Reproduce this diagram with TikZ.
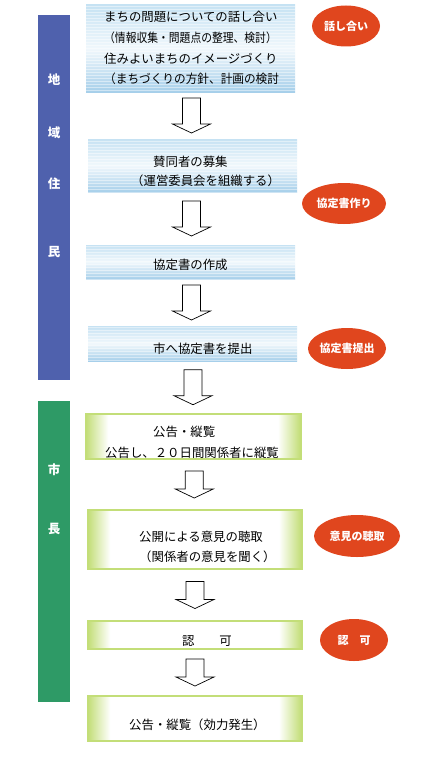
\documentclass[tikz,border=0pt]{standalone}
\usepackage{fontspec}
\setmainfont{Noto Sans CJK JP}
\usetikzlibrary{shapes.geometric,calc,patterns}

\definecolor{azulbarra}{HTML}{4F61AD}
\definecolor{verdebarra}{HTML}{2E9A66}
\definecolor{rojoovalo}{HTML}{E0461E}
\definecolor{azulcaja}{HTML}{A6CFEA}
\definecolor{azulclaro}{HTML}{C6E2F3}
\definecolor{verdecaja}{HTML}{C3DE78}

\tikzset{
  barra/.style={rectangle, inner sep=0pt, minimum width=32pt},
  letrabarra/.style={text=white, inner sep=0pt, font=\bfseries\fontsize{12.5}{14}\selectfont},
  cajaazul/.style={rectangle, inner sep=0pt, top color=azulclaro, bottom color=azulcaja, middle color=azulclaro!25,
    path picture={\fill[pattern=horizontal lines, pattern color=white, opacity=.45]
      (path picture bounding box.south west) rectangle (path picture bounding box.north east);}},
  cajaverde/.style={rectangle, inner sep=0pt, fill=white, draw=verdecaja, line width=1.5pt,
    path picture={
      \foreach \i [evaluate=\i as \p using 100-4.5*\i] in {0,...,22}{
        \fill[verdecaja!\p!white] ([xshift=\i pt]path picture bounding box.south west) rectangle ([xshift=\i pt+1.1pt]path picture bounding box.north west);
        \fill[verdecaja!\p!white] ([xshift=-\i pt]path picture bounding box.south east) rectangle ([xshift=-\i pt-1.1pt]path picture bounding box.north east);}}},
  texto/.style={anchor=west, align=left, inner sep=0pt, text=black, font=\fontsize{12.4}{20.8}\selectfont},
  ovalo/.style={ellipse, fill=rojoovalo, inner sep=0pt, text=white, font=\bfseries\fontsize{11}{13}\selectfont},
  pics/flecha/.style={code={
    \draw[fill=white, line width=.7pt, line join=miter]
      (-9,-#1) -- (9,-#1) -- (9,#1-9) -- (19,#1-9) -- (0,#1) -- (-19,#1-9) -- (-9,#1-9) -- cycle;}}
}

\begin{document}
\begin{tikzpicture}[x=1pt, y=-1pt]
  \useasboundingbox (0,0) rectangle (421,760);
  % Barras laterales
  \node[barra, fill=azulbarra, minimum height=365pt] (vecinos) at (54,197.5) {};
  \node[barra, fill=verdebarra, minimum height=301pt] (alcalde) at (54,551.5) {};
  \node[letrabarra] (l1) at (54,80) {地};
  \node[letrabarra] (l2) at (54,133) {域};
  \node[letrabarra] (l3) at (54,184) {住};
  \node[letrabarra] (l4) at (54,252) {民};
  \node[letrabarra] (l5) at (54,470) {市};
  \node[letrabarra] (l6) at (54,529) {長};

  % Etapas de los vecinos
  \node[cajaazul, minimum width=209pt, minimum height=87pt] (b1) at (190.5,48.5) {};
  \node[cajaazul, minimum width=209pt, minimum height=53pt] (b2) at (192.5,165.5) {};
  \node[cajaazul, minimum width=209pt, minimum height=34pt] (b3) at (190.5,262) {};
  \node[cajaazul, minimum width=209pt, minimum height=35pt] (b4) at (192.5,343.5) {};
  % Etapas del alcalde
  \node[cajaverde, minimum width=215pt, minimum height=45pt] (b5) at (193.5,436.5) {};
  \node[cajaverde, minimum width=214pt, minimum height=59pt] (b6) at (195,539.5) {};
  \node[cajaverde, minimum width=214pt, minimum height=28pt] (b7) at (195,635) {};
  \node[cajaverde, minimum width=214pt, minimum height=45pt] (b8) at (195,718.5) {};

  % Textos
  \node[texto] (t1) at (104,48) {まちの問題についての話し合い\\
    \scalebox{.87}[1]{（情報収集・問題点の整理、検討）}\\
    住みよいまちのイメージづくり\\
    \scalebox{.94}[1]{（まちづくりの方針、計画の検討}};
  \node[texto] (t2) at (131,171.5) {\hspace*{22pt}賛同者の募集\\[-1.8pt]（運営委員会を組織する）};
  \node[texto] (t3) at (153,265) {協定書の作成};
  \node[texto] (t4) at (153,349) {市へ協定書を提出};
  \node[texto] (t5) at (105,442.5) {\hspace*{48pt}公告・縦覧\\公告し、２０日間関係者に縦覧};
  \node[texto] (t6) at (139,546.5) {公開による意見の聴取\\[-.8pt]（関係者の意見を聞く）};
  \node[texto] (t7) at (182,640.5) {認　　可};
  \node[texto] (t8) at (129,724.5) {公告・縦覧（効力発生）};

  % Flechas
  \pic at ($(b1.south)!.5!(b2.north)$) {flecha=17.5};
  \pic at ($(b2.south)!.5!(b3.north)$) {flecha=17.5};
  \pic at ($(b3.south)!.5!(b4.north)$) {flecha=17.5};
  \pic at ($(b4.south)!.5!(b5.north)$) {flecha=17.5};
  \pic at ($(b5.south)!.5!(b6.north)$) {flecha=13.5};
  \pic at ($(b6.south)!.5!(b7.north)$) {flecha=13.5};
  \pic at ($(b7.south)!.5!(b8.north)$) {flecha=13.5};

  % Ovalos
  \node[ovalo, minimum width=68pt, minimum height=41pt] (o1) at (346,26) {話し合い};
  \node[ovalo, minimum width=84pt, minimum height=41pt] (o2) at (344,203.5) {協定書作り};
  \node[ovalo, minimum width=78pt, minimum height=41pt] (o3) at (347,348.5) {協定書提出};
  \node[ovalo, minimum width=86pt, minimum height=42pt] (o4) at (357,536) {意見の聴取};
  \node[ovalo, minimum width=68pt, minimum height=42pt] (o5) at (354,640) {認　可};
\end{tikzpicture}
\end{document}
